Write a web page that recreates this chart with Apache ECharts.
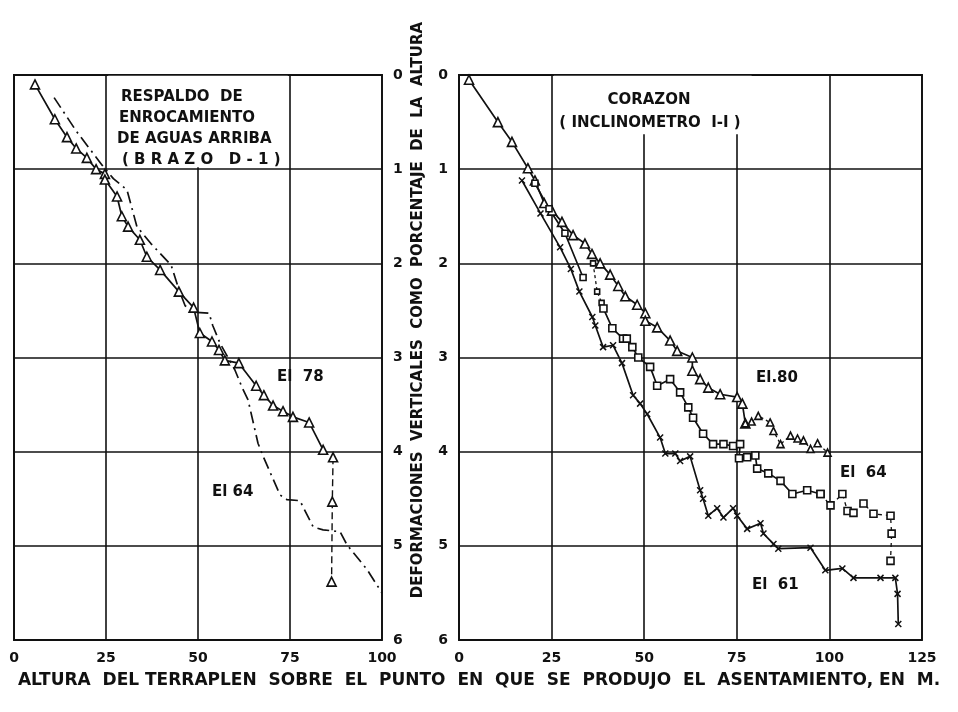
<!DOCTYPE html>
<html>
<head>
<meta charset="utf-8">
<script src="https://cdn.jsdelivr.net/npm/echarts@6/dist/echarts.min.js"></script>
<style>
  html, body { margin: 0; padding: 0; background: #fff; }
  #chart { width: 958px; height: 712px; }
</style>
</head>
<body>
<div id="chart"></div>
<script>
// tick labels
const leftXTicks = [0, 25, 50, 75, 100];
const rightXTicks = [0, 25, 50, 75, 100, 125];
const yTicks = [0, 1, 2, 3, 4, 5, 6];

// left panel: respaldo de enrocamiento (x = altura m, y = % deformacion)
const leftEl78 = [[5.7,0.1],[11.1,0.47],[14.4,0.66],[16.9,0.78],[19.8,0.88],[22.3,1.0],[24.7,1.05],[24.7,1.11],
  [28,1.29],[29.3,1.5],[31,1.61],[34.2,1.75],[36.1,1.93],[39.7,2.07],[44.8,2.3],[48.8,2.47],[50.5,2.74],
  [53.8,2.83],[55.7,2.92],[57.3,3.03],[61.1,3.06],[65.8,3.3],[67.9,3.4],[70.4,3.51],[73.1,3.57],[75.8,3.63],
  [80.2,3.69],[84,3.98]];
const leftEl78Tail = [[86.7,4.06],[86.5,4.53],[86.3,5.38]];
const leftEl64 = [[10.9,0.24],[17,0.6],[24,0.96],[27,1.1],[30.7,1.22],[33.4,1.61],[37.2,1.79],[42.7,2.02],
  [45,2.3],[46.5,2.45],[49,2.52],[53,2.53],[54,2.66],[56,2.85],[60,3.13],[62,3.32],[63.6,3.45],[66.3,3.91],
  [67.7,4.05],[72.3,4.46],[74.2,4.51],[77.7,4.52],[81.3,4.8],[84,4.83],[88.6,4.85],[90.5,4.99],[95.9,5.25],
  [100,5.5]];

// right panel: corazon (inclinometro I-I)
const rightEl80 = [[2.7,0.05],[10.5,0.5],[14.3,0.71],[18.6,0.99],[20.5,1.12],[23,1.36],[25.1,1.44],[27.8,1.56],
  [30.8,1.7],[34,1.79],[35.9,1.9],[38.1,2.0],[40.8,2.12],[43,2.24],[44.9,2.35],[48.1,2.44],[50.3,2.53],
  [50.3,2.61],[53.5,2.68],[57,2.82],[58.9,2.93],[63,3.0],[63,3.14],[65.1,3.23],[67.3,3.32],[70.5,3.39],
  [75.1,3.42],[76.5,3.49],[77.3,3.7]];
const rightEl80Tail = [[77.3,3.7],[79,3.68],[80.8,3.62],[84,3.69],[84.9,3.78],[86.8,3.92],[89.5,3.83],
  [91.4,3.86],[93,3.88],[94.9,3.97],[96.8,3.91],[99.5,4.01]];
const rightEl64Head = [[20.5,1.15],[24.3,1.42],[28.6,1.68],[33.5,2.15]];
const rightEl64Gap = [[36.2,2.0],[37.3,2.3],[38.5,2.42],[39,2.48]];
const rightEl64 = [[39,2.48],[41.4,2.69],[44.3,2.8],[45.3,2.8],[46.8,2.89],[48.4,3.0],[51.6,3.1],[53.5,3.3],
  [57,3.23],[59.7,3.37],[61.9,3.53],[63.2,3.64],[65.9,3.81],[68.6,3.92],[71.4,3.92],[74,3.94],[75.9,3.92],
  [75.6,4.07],[77.8,4.06],[80,4.04],[80.5,4.18],[83.5,4.23],[86.8,4.31],[90,4.45],[94,4.41],[97.6,4.45]];
const rightEl64Tail = [[97.6,4.45],[100.3,4.57],[103.5,4.45],[104.9,4.63],[106.5,4.65],[109.2,4.55],
  [111.9,4.66],[116.5,4.68],[116.8,4.87],[116.5,5.16]];
const rightEl61 = [[17,1.12],[22,1.47],[27.3,1.83],[30.2,2.06],[32.5,2.3],[36,2.57],[36.8,2.66],[38.9,2.89],
  [41.6,2.87],[44,3.06],[47,3.4],[48.9,3.49],[50.8,3.6],[54.3,3.85],[55.7,4.02],[58.4,4.02],[59.7,4.1],
  [62.4,4.05],[65.1,4.41],[65.9,4.5],[67.3,4.68],[69.7,4.6],[71.4,4.7],[74,4.6],[75.1,4.68],[77.8,4.82],
  [81.4,4.76],[82.2,4.87],[84.9,4.98],[86.2,5.03],[94.9,5.02],[98.9,5.26],[103.5,5.24],[106.5,5.34],
  [113.8,5.34],[117.8,5.34],[118.4,5.51],[118.6,5.83]];

const INK = '#111';
const FONT = 'DejaVu Sans';
const crossSymbol = 'path://M0,0L10,10M10,0L0,10';

function xAxisFor(gridIndex, ticks) {
  return {
    type: 'value', gridIndex: gridIndex,
    min: ticks[0], max: ticks[ticks.length - 1], interval: 25,
    axisLine: { lineStyle: { color: INK, width: 1.8 } },
    axisTick: { show: false },
    axisLabel: { color: INK, fontFamily: FONT, fontSize: 14, fontWeight: 'bold', margin: 11,
      customValues: ticks },
    splitLine: { show: true, lineStyle: { color: INK, width: 1.6 } }
  };
}

function yAxisFor(gridIndex, position) {
  return {
    type: 'value', gridIndex: gridIndex, inverse: true, position: position,
    min: yTicks[0], max: yTicks[yTicks.length - 1], interval: 1,
    axisLine: { show: true, lineStyle: { color: INK, width: 1.8 } },
    axisTick: { show: false },
    axisLabel: { color: INK, fontFamily: FONT, fontSize: 14, fontWeight: 'bold', margin: 11 },
    splitLine: { show: true, lineStyle: { color: INK, width: 1.6 } }
  };
}

function line(data, idx, opts) {
  return Object.assign({
    type: 'line', xAxisIndex: idx, yAxisIndex: idx, data: data,
    symbol: 'triangle', symbolSize: 9, showSymbol: true,
    lineStyle: { color: INK, width: 1.7 },
    itemStyle: { color: '#fff', borderColor: INK, borderWidth: 1.6 },
    animation: false, z: 3
  }, opts);
}

const chart = echarts.init(document.getElementById('chart'), null, { renderer: 'canvas' });

function label(x, y, text, align, size) {
  return { type: 'text', x: x, y: y, z: 10,
    style: { text: text, fill: INK, font: 'bold ' + (size || 14) + 'px "' + FONT + '"',
      textAlign: align || 'left', textVerticalAlign: 'middle' } };
}

chart.setOption({
  backgroundColor: '#fff',
  animation: false,
  grid: [
    { left: 14, right: 576, top: 75, bottom: 72, show: true, borderColor: INK, borderWidth: 1.8, backgroundColor: '#fff' },
    { left: 459, right: 36, top: 75, bottom: 72, show: true, borderColor: INK, borderWidth: 1.8, backgroundColor: '#fff' }
  ],
  xAxis: [xAxisFor(0, leftXTicks), xAxisFor(1, rightXTicks)],
  yAxis: [yAxisFor(0, 'right'), yAxisFor(1, 'left')],
  series: [
    // white boxes behind the panel titles hide the grid lines there
    line(leftEl78, 0, {
      markArea: { silent: true, itemStyle: { color: '#fff', opacity: 1 },
        data: [[{ coord: [25.6, 0.008] }, { coord: [74.4, 0.98] }]] }
    }),
    line(leftEl78Tail, 0, { lineStyle: { color: INK, width: 1.4, type: [7, 4] } }),
    line(leftEl64, 0, { showSymbol: false, symbol: 'none', lineStyle: { color: INK, width: 1.7, type: [12, 5, 2, 5] } }),

    line(rightEl80, 1, {
      markArea: { silent: true, itemStyle: { color: '#fff', opacity: 1 },
        data: [[{ coord: [25.6, 0.008] }, { coord: [79, 0.63] }]] }
    }),
    line(rightEl80Tail, 1, { symbolSize: 7, lineStyle: { color: INK, width: 1.3, type: [3, 3] } }),
    line(rightEl64Head, 1, { symbol: 'rect', symbolSize: 6 }),
    line(rightEl64Gap, 1, { symbol: 'rect', symbolSize: 5, lineStyle: { color: INK, width: 1.3, type: [3, 3] } }),
    line(rightEl64, 1, { symbol: 'rect', symbolSize: 7 }),
    line(rightEl64Tail, 1, { symbol: 'rect', symbolSize: 7, lineStyle: { color: INK, width: 1.3, type: [4, 4] } }),
    line(rightEl61, 1, { symbol: crossSymbol, symbolSize: 6,
      itemStyle: { color: INK, borderColor: INK, borderWidth: 1.5 } })
  ],
  graphic: [
    label(121, 97, 'RESPALDO  DE', 'left', 15),
    label(119, 118, 'ENROCAMIENTO', 'left', 15),
    label(117, 139, 'DE AGUAS ARRIBA', 'left', 15),
    label(122, 160, '( B R A Z O   D - 1 )', 'left', 15),
    label(649, 100, 'CORAZON', 'center', 15),
    label(650, 123, '( INCLINOMETRO  I-I )', 'center', 15),
    label(277, 377, 'El  78', 'left', 15),
    label(212, 492, 'El 64', 'left', 15),
    label(756, 378, 'El.80', 'left', 15),
    label(840, 473, 'El  64', 'left', 15),
    label(752, 585, 'El  61', 'left', 15),
    {
      type: 'text', x: 418, y: 310, rotation: Math.PI / 2, z: 10,
      style: { text: 'DEFORMACIONES  VERTICALES  COMO  PORCENTAJE  DE  LA  ALTURA', fill: INK,
        font: 'bold 15px "' + FONT + '"', textAlign: 'center', textVerticalAlign: 'middle' }
    },
    label(479, 681, 'ALTURA  DEL TERRAPLEN  SOBRE  EL  PUNTO  EN  QUE  SE  PRODUJO  EL  ASENTAMIENTO, EN  M.', 'center', 17)
  ]
});
</script>
</body>
</html>
